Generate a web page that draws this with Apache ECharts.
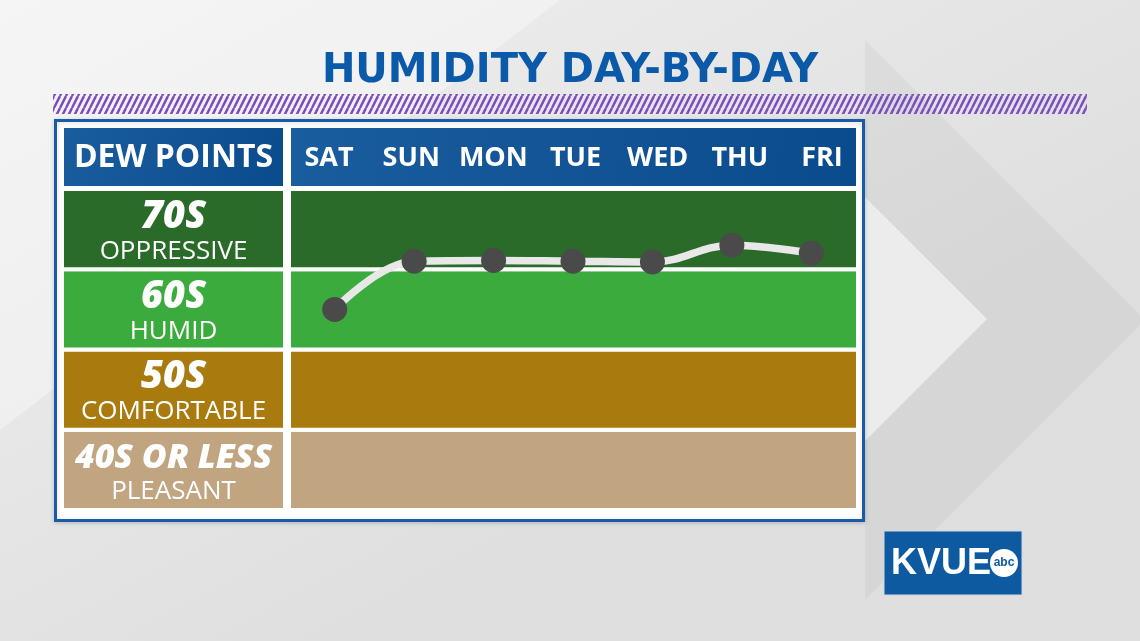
<!DOCTYPE html>
<html><head><meta charset="utf-8">
<script src="https://cdn.jsdelivr.net/npm/echarts@6/dist/echarts.min.js"></script>
<style>html,body{margin:0;padding:0;background:#e6e6e6}#c{width:1140px;height:641px}</style>
</head><body><div id="c"></div>
<script>
// ---- data ----
const titleText = 'HUMIDITY DAY-BY-DAY';
const headerLabel = ['DEW POINTS'];
const days = ['SAT', 'SUN', 'MON', 'TUE', 'WED', 'THU', 'FRI'];
const dewPoints = [65, 71, 71.1, 71, 70.9, 73, 72];
const bandLow = [40, 50, 60, 70];
const bandHigh = [50, 60, 70, 80];
const bandRanges = ['40S OR LESS', '50S', '60S', '70S'];
const bandNames = ['PLEASANT', 'COMFORTABLE', 'HUMID', 'OPPRESSIVE'];
const logoText = 'KVUE';
const logoSub = 'abc';

// ---- styles ----
const bandColors = ['#c1a480', '#a97a0e', '#3cab3d', '#2a6b2a'];
const headerBlue = new echarts.graphic.LinearGradient(0, 0, 1, 1, [
  { offset: 0, color: '#1a5d9e' }, { offset: 1, color: '#0a4b8e' }]);
const cellFont = '"Open Sans", "Noto Sans", sans-serif';

// striped pattern
const pc = document.createElement('canvas');
pc.width = 6; pc.height = 12;
const g = pc.getContext('2d');
g.strokeStyle = '#7a4cc2'; g.lineWidth = 2.4;
for (const dx of [-6, 0, 6]) { g.beginPath(); g.moveTo(dx, 12); g.lineTo(dx + 6, 0); g.stroke(); }

const chart = echarts.init(document.getElementById('c'), null, { renderer: 'canvas' });

const leftAreas = bandLow.map((lo, i) => [
  { yAxis: lo, itemStyle: { color: bandColors[i] },
    label: { formatter: '{' + (i === 0 ? 's' : 'a') + '|' + bandRanges[i] + '}\n{b|' + bandNames[i] + '}' } },
  { yAxis: bandHigh[i] }
]);
const rightAreas = bandLow.map((lo, i) => [
  { yAxis: lo, itemStyle: { color: bandColors[i] } }, { yAxis: bandHigh[i] }
]);

const hiddenY = (gi) => ({ type: 'value', gridIndex: gi, min: 40, max: 80, show: false });
const hiddenX = (gi) => ({ type: 'value', gridIndex: gi, min: 0, max: 1, show: false });

const option = {
  backgroundColor: 'transparent',
  animation: false,
  title: {
    text: titleText, left: 'center', top: 47,
    textStyle: { color: '#0b59a9', fontSize: 40, fontWeight: 'bold', fontFamily: '"DejaVu Sans", sans-serif' }
  },
  grid: [
    { left: 62, top: 189, width: 223, height: 321 },                 // 0 left bands
    { left: 289, top: 189, width: 569, height: 321 },                // 1 right bands
    { left: 295, top: 189, width: 556, height: 321 },                // 2 data
    { left: 64, top: 128, width: 219, height: 58, show: true, backgroundColor: headerBlue, borderWidth: 0 }, // 3
    { left: 291, top: 128, width: 565, height: 58, show: true, backgroundColor: headerBlue, borderWidth: 0 }, // 4
    { left: 288, top: 128, width: 575, height: 58 }                  // 5 day labels
  ],
  xAxis: [
    hiddenX(0), hiddenX(1),
    { type: 'category', gridIndex: 2, data: days, boundaryGap: true, show: false },
    { type: 'category', gridIndex: 3, data: headerLabel, axisLine: { show: false }, axisTick: { show: false },
      axisLabel: { inside: true, margin: 28, verticalAlign: 'middle', color: '#fff', fontSize: 32, fontWeight: 'bold', fontFamily: cellFont } },
    hiddenX(4),
    { type: 'category', gridIndex: 5, data: days, axisLine: { show: false }, axisTick: { show: false },
      axisLabel: { inside: true, margin: 28, interval: 0, verticalAlign: 'middle', color: '#fff', fontSize: 27, fontWeight: 'bold', fontFamily: cellFont } }
  ],
  yAxis: [hiddenY(0), hiddenY(1), hiddenY(2), hiddenY(3), hiddenY(4), hiddenY(5)],
  series: [
    { type: 'line', xAxisIndex: 0, yAxisIndex: 0, data: [], silent: true,
      markArea: { silent: true, itemStyle: { borderColor: '#fff', borderWidth: 4 },
        label: { show: true, position: 'inside', offset: [0, 4], color: '#fff',
          rich: {
            a: { fontSize: 38, fontWeight: 800, fontStyle: 'italic', color: '#fff', fontFamily: cellFont, lineHeight: 36 },
            s: { fontSize: 34, fontWeight: 800, fontStyle: 'italic', color: '#fff', fontFamily: cellFont, lineHeight: 36 },
            b: { fontSize: 26, color: '#fff', fontFamily: cellFont, lineHeight: 32 }
          } },
        data: leftAreas } },
    { type: 'line', xAxisIndex: 1, yAxisIndex: 1, data: [], silent: true,
      markArea: { silent: true, itemStyle: { borderColor: '#fff', borderWidth: 4 }, data: rightAreas } },
    { type: 'line', xAxisIndex: 2, yAxisIndex: 2, data: dewPoints, smooth: 0.4, z: 5,
      symbol: 'circle', symbolSize: 25,
      lineStyle: { color: '#e8e8e8', width: 7.5 },
      itemStyle: { color: '#4a4a4a' } }
  ],
  graphic: [
    { type: 'rect', z: -100, shape: { x: 0, y: 0, width: 1140, height: 641 },
      style: { fill: new echarts.graphic.LinearGradient(0, 0, 0.3, 1, [
        { offset: 0, color: '#f0f0f0' }, { offset: 1, color: '#dfdfdf' }]) } },
    { type: 'polygon', z: -99, shape: { points: [[865, 40], [1145, 320], [865, 600]] }, style: { fill: 'rgba(0,0,0,0.04)' } },
    { type: 'polygon', z: -98, shape: { points: [[865, 197], [987, 319], [865, 441]] }, style: { fill: '#ececec' } },
    { type: 'polygon', z: -99, shape: { points: [[0, 0], [560, 0], [0, 430]] }, style: { fill: 'rgba(255,255,255,0.35)' } },
    { type: 'rect', z: -50, shape: { x: 53, y: 94, width: 1034, height: 20 },
      style: { fill: { image: pc, repeat: 'repeat' } } },
    { type: 'rect', z: -40, shape: { x: 55.5, y: 120.5, width: 808, height: 400 },
      style: { fill: '#ffffff', stroke: '#1a5ba6', lineWidth: 3, shadowColor: 'rgba(0,0,0,0.15)', shadowBlur: 4, shadowOffsetY: 1 } },
    { type: 'group', z: 10, children: [
      { type: 'rect', shape: { x: 884, y: 531, width: 138, height: 64 }, style: { fill: '#0d5aa0', stroke: '#d0d8e4', lineWidth: 1 } },
      { type: 'text', style: { x: 891, y: 564, text: logoText, fill: '#fff', font: '900 36px "Liberation Sans", sans-serif', verticalAlign: 'middle' } },
      { type: 'circle', shape: { cx: 1004, cy: 563, r: 14 }, style: { fill: '#fff' } },
      { type: 'text', style: { x: 1004, y: 563, text: logoSub, fill: '#0d5aa0', font: 'bold 12px "Liberation Sans", sans-serif', align: 'center', verticalAlign: 'middle' } }
    ] }
  ]
};
chart.setOption(option);
</script>
</body></html>
